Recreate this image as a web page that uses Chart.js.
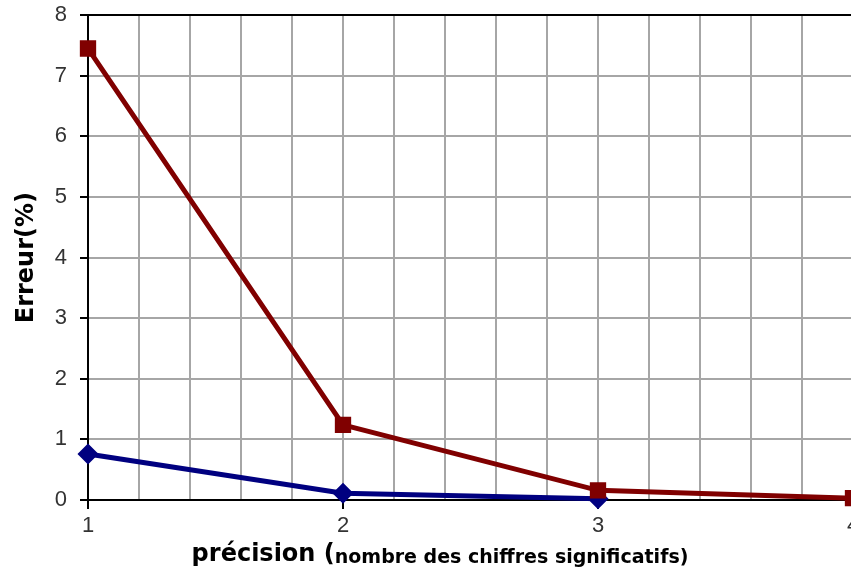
<!DOCTYPE html>
<html>
<head>
<meta charset="utf-8">
<script src="https://cdn.jsdelivr.net/npm/chart.js@4"></script>
<style>
  html, body { margin: 0; padding: 0; background: #fff; overflow: hidden; }
  #wrap { width: 866px; height: 585px; margin-top: -11px; }
</style>
</head>
<body>
<div id="wrap"><canvas id="c"></canvas></div>
<script>
// précision (nombre de chiffres significatifs)
const precision = [1, 2, 3, 4];
// erreur (%) par série
const erreurRouge = [7.45, 1.24, 0.16, 0.03];
const erreurBleue = [0.76, 0.11, 0.02, null];
const yTicks = [0, 1, 2, 3, 4, 5, 6, 7, 8];

const RED = '#800000';
const BLUE = '#000080';

const toPoints = (vals) => precision.map((x, i) => ({ x: x, y: vals[i] })).filter(p => p.y !== null);

// titre de l'axe x avec deux tailles de police
const xTitlePlugin = {
  id: 'xTitle',
  afterDraw(chart) {
    const ctx = chart.ctx;
    const bottom = chart.chartArea.bottom;
    const part1 = 'précision (';
    const part2 = 'nombre des chiffres significatifs)';
    const f1 = 'bold 24px "DejaVu Sans"';
    const f2 = 'bold 19px "DejaVu Sans"';
    ctx.save();
    ctx.fillStyle = '#000';
    ctx.textBaseline = 'alphabetic';
    ctx.textAlign = 'left';
    ctx.font = f1;
    const w1 = ctx.measureText(part1).width;
    ctx.font = f2;
    const w2 = ctx.measureText(part2).width;
    const cx = 440;
    const x = cx - (w1 + w2) / 2;
    ctx.font = f1;
    ctx.fillText(part1, x, bottom + 61);
    ctx.font = f2;
    ctx.fillText(part2, x + w1, bottom + 63);
    ctx.restore();
  }
};

new Chart(document.getElementById('c'), {
  type: 'scatter',
  data: {
    datasets: [
      {
        label: 'série 1',
        data: toPoints(erreurRouge),
        showLine: true,
        borderColor: RED,
        backgroundColor: RED,
        borderWidth: 5,
        pointStyle: 'rect',
        pointRadius: 8,
        pointHoverRadius: 8,
        clip: false
      },
      {
        label: 'série 2',
        data: toPoints(erreurBleue),
        showLine: true,
        borderColor: BLUE,
        backgroundColor: BLUE,
        borderWidth: 5,
        pointStyle: 'rectRot',
        pointRadius: 7,
        pointHoverRadius: 7,
        clip: false
      }
    ]
  },
  options: {
    responsive: true,
    maintainAspectRatio: false,
    animation: false,
    layout: { padding: 0 },
    plugins: {
      legend: { display: false },
      tooltip: { enabled: false }
    },
    scales: {
      x: {
        type: 'linear',
        min: precision[0],
        max: precision[precision.length - 1],
        afterFit(scale) { scale.height = 74; },
        ticks: {
          stepSize: 0.2,
          autoSkip: false,
          maxRotation: 0,
          padding: 4,
          color: '#333',
          font: { family: '"Liberation Sans", Arial', size: 22 },
          callback: (v) => (Math.abs(v - Math.round(v)) < 1e-6 ? String(Math.round(v)) : '')
        },
        grid: {
          color: (c) => (c.tick && Math.abs(c.tick.value - 1) < 1e-6 ? '#000' : '#a6a6a6'),
          lineWidth: 2,
          tickLength: 9,
          tickColor: (c) => (c.tick && Math.abs(c.tick.value - Math.round(c.tick.value)) < 1e-6 ? '#000' : 'rgba(0,0,0,0)'),
          tickWidth: 2
        },
        border: { color: '#000', width: 2 }
      },
      y: {
        min: yTicks[0],
        max: yTicks[yTicks.length - 1],
        afterFit(scale) { scale.width = 88; },
        afterBuildTicks(scale) { scale.ticks = yTicks.map(v => ({ value: v })); },
        title: {
          display: true,
          text: 'Erreur(%)',
          color: '#000',
          font: { family: '"DejaVu Sans"', size: 24, weight: 'bold' },
          padding: { top: 12, bottom: 8 }
        },
        ticks: {
          padding: 13,
          color: '#333',
          font: { family: '"Liberation Sans", Arial', size: 22 }
        },
        grid: {
          color: (c) => (c.tick && c.tick.value === 8 ? '#000' : '#a6a6a6'),
          lineWidth: 2,
          tickLength: 8,
          tickColor: '#000',
          tickWidth: 2
        },
        border: { color: '#000', width: 2 }
      }
    }
  },
  plugins: [xTitlePlugin]
});
</script>
</body>
</html>
